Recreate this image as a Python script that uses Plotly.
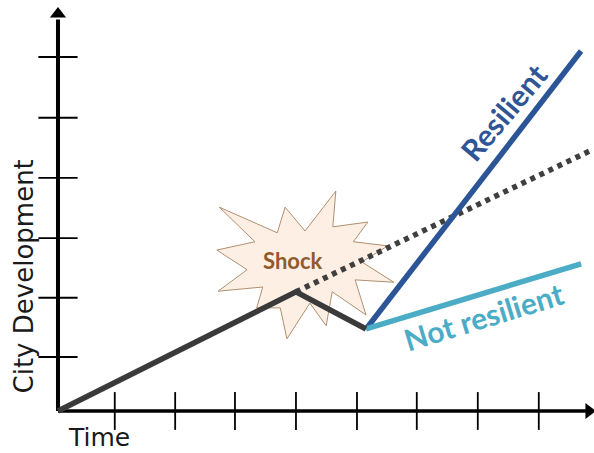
import plotly.graph_objects as go

# Chart units: one tick step on either axis
x_ticks = [0.94, 1.94, 2.93, 3.94, 4.95, 5.94, 6.95, 7.96]
y_ticks = [0.906, 1.90, 2.90, 3.91, 4.92, 5.94]

base_x = [0, 3.94, 5.10]
base_y = [0, 2.00, 1.376]
trend_x = [3.94, 8.84]
trend_y = [2.00, 4.38]
resilient_x = [5.10, 8.66]
resilient_y = [1.376, 6.04]
not_resilient_x = [5.10, 8.66]
not_resilient_y = [1.376, 2.47]

star_x = [2.67, 3.63, 3.76, 4.09, 4.60, 4.55, 5.13, 4.89, 5.46, 5.03, 5.56, 4.92, 5.10,
          4.54, 4.44, 4.17, 3.79, 3.68, 3.29, 3.39, 2.65, 3.13, 2.63, 3.26, 2.67]
star_y = [3.42, 2.99, 3.42, 3.02, 3.69, 3.09, 3.17, 2.84, 2.77, 2.50, 2.16, 2.20, 1.61,
          2.00, 1.43, 1.81, 1.21, 1.73, 1.73, 2.08, 2.01, 2.37, 2.70, 2.84, 3.42]

x_end = 8.87
y_end = 6.92

fig = go.Figure()


def line(x, y, color, width, dash="solid"):
    fig.add_trace(go.Scatter(x=x, y=y, mode="lines", hoverinfo="skip",
                             line=dict(color=color, width=width, dash=dash)))


fig.add_trace(go.Scatter(x=star_x, y=star_y, mode="lines", fill="toself",
                         fillcolor="#fdefe4", hoverinfo="skip",
                         line=dict(color="#b0906f", width=1)))

# Axes with crossing ticks and arrow heads
line([0, x_end - 0.1], [0, 0], "#000000", 3.5)
line([0, 0], [0, y_end - 0.35], "#000000", 4)
fig.add_trace(go.Scatter(x=x_ticks, y=[0] * len(x_ticks), mode="markers", hoverinfo="skip",
                         marker=dict(symbol="line-ns", size=27, line=dict(color="#000000", width=1.8))))
fig.add_trace(go.Scatter(x=[0] * len(y_ticks), y=y_ticks, mode="markers", hoverinfo="skip",
                         marker=dict(symbol="line-ew", size=28, line=dict(color="#000000", width=1.8))))
fig.add_trace(go.Scatter(x=[x_end - 0.08], y=[0], mode="markers", hoverinfo="skip",
                         marker=dict(symbol="triangle-right", size=14, color="#000000")))
fig.add_trace(go.Scatter(x=[0], y=[y_end - 0.26], mode="markers", hoverinfo="skip",
                         marker=dict(symbol="triangle-up", size=14, color="#000000")))

line(trend_x, trend_y, "#3f3f3f", 5.5, "5px,5px")
line(resilient_x, resilient_y, "#2b5597", 5.5)
line(not_resilient_x, not_resilient_y, "#4bacc6", 5.5)
line(base_x, base_y, "#3a3a3a", 5.5)


def label(x, y, text, size, color, angle=0, family="Lato", bold=False):
    fig.add_annotation(x=x, y=y, text=f"<b>{text}</b>" if bold else text, showarrow=False,
                       textangle=angle, font=dict(family=family, size=size, color=color))


label(3.89, 2.53, "Shock", 22, "#8f5a2c", bold=True)
label(7.37, 5.02, "Resilient", 30, "#2f5597", -50, bold=True)
label(7.05, 1.60, "Not resilient", 30, "#4bacc6", -17, bold=True)
label(0.68, -0.44, "Time", 25, "#1a1a1a", family="DejaVu Sans")
label(-0.57, 2.25, "City Development", 26, "#1a1a1a", -90, family="DejaVu Sans")

fig.update_layout(
    width=594, height=453, margin=dict(l=0, r=0, t=0, b=0),
    paper_bgcolor="white", plot_bgcolor="white", showlegend=False,
    xaxis=dict(range=[-0.96, 8.874], visible=False, domain=[0, 1]),
    yaxis=dict(range=[-0.705, 6.896], visible=False, domain=[0, 1]),
)
fig.write_html("out.html", config={"displayModeBar": False},
               post_script="document.body.style.margin='0';")
